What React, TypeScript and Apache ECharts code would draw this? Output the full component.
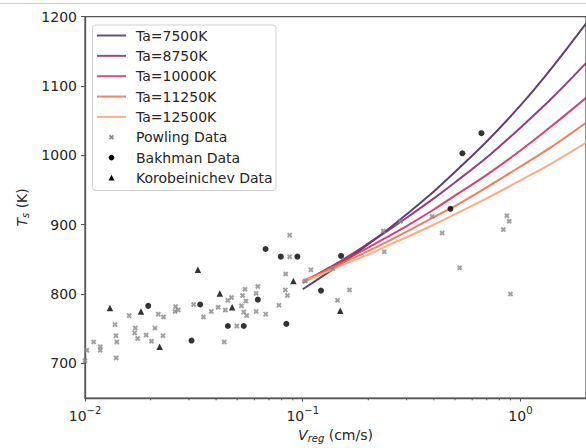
import React, { useEffect, useRef } from 'react';
import * as echarts from 'echarts';

// ---- data ----
const curveNames = ['Ta=7500K', 'Ta=8750K', 'Ta=10000K', 'Ta=11250K', 'Ta=12500K'];
const curveColors = ['#4e2d5c', '#8a2a6e', '#d3305f', '#f2704d', '#f9a47c'];
const curveV = [0.1, 0.125, 0.15, 0.2, 0.25, 0.3, 0.4, 0.5, 0.7, 1.0, 1.4, 2.0];
const curveT7500 = [807, 827, 844, 872, 895, 915, 948, 976, 1020, 1072, 1127, 1190];
const curveT8750 = [816, 834, 848, 873, 893, 910, 938, 961, 997, 1040, 1083, 1133];
const curveT10000 = [818, 833, 846, 867, 884, 898, 922, 942, 972, 1007, 1043, 1083];
const curveT11250 = [819, 832, 844, 862, 877, 890, 911, 927, 954, 984, 1013, 1047];
const curveT12500 = [818, 830, 841, 857, 871, 882, 900, 915, 938, 964, 989, 1018];
const curveTs = [curveT7500, curveT8750, curveT10000, curveT11250, curveT12500];

const powlingV = [0.0100, 0.0102, 0.01096, 0.01175, 0.01175, 0.01373, 0.01387, 0.0140, 0.0139, 0.01596,
  0.01702, 0.0169, 0.01745, 0.0191, 0.0202, 0.02096, 0.0217, 0.02296, 0.0228, 0.02606,
  0.0259, 0.0268, 0.03155, 0.035, 0.038, 0.0409, 0.0436, 0.0441, 0.0453, 0.0471,
  0.0498, 0.0523, 0.0529, 0.0543, 0.0548, 0.0536, 0.0553, 0.0611, 0.0622, 0.0611,
  0.0676, 0.0778, 0.0835, 0.0832, 0.085, 0.0871, 0.0871, 0.1028, 0.109, 0.1375,
  0.1445, 0.164, 0.2344, 0.2369, 0.281, 0.393, 0.437, 0.526, 0.834, 0.866,
  0.888, 0.900];
const powlingT = [704, 719, 731, 724, 719, 756, 740, 731, 708, 769,
  751, 744, 736, 741, 732, 751, 771, 767, 740, 782,
  775, 777, 785, 767, 775, 781, 731, 777, 791, 795,
  754, 783, 798, 807, 790, 774, 769, 801, 811, 775,
  771, 784, 829, 806, 798, 885, 854, 819, 835, 837,
  791, 806, 891, 861, 905, 912, 888, 838, 893, 913,
  905, 800];

const bakhmanV = [0.01952, 0.03085, 0.0338, 0.0453, 0.0536, 0.0622, 0.0675, 0.0793, 0.0841, 0.0945, 0.1213, 0.150, 0.477, 0.541, 0.662];
const bakhmanT = [783, 733, 785, 754, 754, 792, 865, 854, 757, 854, 805, 855, 923, 1003, 1032];

const korobV = [0.01302, 0.01807, 0.02201, 0.033, 0.0416, 0.0474, 0.0906, 0.1487];
const korobT = [780, 775, 724, 835, 801, 781, 819, 776];

const scatterNames = ['Powling Data', 'Bakhman Data', 'Korobeinichev Data'];

const xMajorTicks = [0.01, 0.1, 1];
const xMajorExponents = ['−2', '−1', '0'];
const xMinorTicks = [0.02, 0.03, 0.04, 0.05, 0.06, 0.07, 0.08, 0.09, 0.2, 0.3, 0.4, 0.5, 0.6, 0.7, 0.8, 0.9];
const yTicks = [700, 800, 900, 1000, 1100, 1200];
const xMin = 0.01, xMax = 2, yMin = 650, yMax = 1200;

// ---- styling ----
const FONT = 'DejaVu Sans';
const SPINE = '#555';
const TEXT = '#262626';
const GRAY = '#8a8a8a';
const X_PATH = 'path://M0,2.6L2.6,0L5,2.4L7.4,0L10,2.6L7.6,5L10,7.4L7.4,10L5,7.6L2.6,10L0,7.4L2.4,5Z';

const zip = (a: number[], b: number[]) => a.map((v, i) => [v, b[i]]);

function buildLegend() {
  const els: any[] = [];
  const bx = 92.5, by = 25, bw = 183.5, bh = 165.5;
  const rowY0 = 35.5, rowGap = 20.35;
  const hx1 = 97, hx2 = 126, hxc = 111.5, tx = 136;
  els.push({
    type: 'rect', z: 100,
    shape: { x: bx, y: by, width: bw, height: bh, r: 3 },
    style: { fill: 'rgba(255,255,255,0.8)', stroke: '#cfcfcf', lineWidth: 1 },
  });
  const addText = (t: string, y: number) => els.push({
    type: 'text', z: 101, x: tx, y,
    style: { text: t, fontFamily: FONT, fontSize: 14, fill: TEXT, verticalAlign: 'middle', align: 'left' },
  });
  curveNames.forEach((n, i) => {
    const y = rowY0 + i * rowGap;
    els.push({ type: 'line', z: 101, shape: { x1: hx1, y1: y, x2: hx2, y2: y }, style: { stroke: curveColors[i], lineWidth: 2, opacity: 0.85 } });
    addText(n, y);
  });
  scatterNames.forEach((n, k) => {
    const y = rowY0 + (curveNames.length + k) * rowGap;
    if (k === 0) {
      const s = 2.6, w = 1.3;
      els.push({
        type: 'polygon', z: 101,
        shape: { points: [
          [hxc - s, y - s + w], [hxc - s + w, y - s], [hxc, y - w], [hxc + s - w, y - s], [hxc + s, y - s + w], [hxc + w, y],
          [hxc + s, y + s - w], [hxc + s - w, y + s], [hxc, y + w], [hxc - s + w, y + s], [hxc - s, y + s - w], [hxc - w, y],
        ] },
        style: { fill: GRAY },
      });
    } else if (k === 1) {
      els.push({ type: 'circle', z: 101, shape: { cx: hxc, cy: y, r: 2.8 }, style: { fill: '#000' } });
    } else {
      els.push({ type: 'polygon', z: 101, shape: { points: [[hxc, y - 3.2], [hxc - 3, y + 2.6], [hxc + 3, y + 2.6]] }, style: { fill: '#000' } });
    }
    addText(n, y);
  });
  // notebook cell border at the very top
  els.push({ type: 'line', z: 100, shape: { x1: 0, y1: 3.5, x2: 586, y2: 3.5 }, style: { stroke: '#cfcfcf', lineWidth: 1 } });
  return els;
}

export default function App() {
  const ref = useRef<HTMLDivElement>(null);
  useEffect(() => {
    if (!ref.current) return;
    const chart = echarts.init(ref.current, null, { renderer: 'svg' });

    const lineSeries = curveNames.map((name, i) => ({
      name, type: 'line', data: zip(curveV, curveTs[i]),
      showSymbol: false, symbol: 'none', smooth: 0.3,
      lineStyle: { color: curveColors[i], width: 2, opacity: 0.9 }, z: 2, silent: true,
    }));

    const option: any = {
      animation: false,
      backgroundColor: '#fff',
      textStyle: { fontFamily: FONT },
      grid: { left: 85, right: -3, top: 16.7, bottom: 46.3, show: true, borderColor: SPINE, borderWidth: 1.3, backgroundColor: 'transparent' },
      xAxis: {
        type: 'log', logBase: 10, min: xMin, max: xMax,
        name: '{i|V}{sub|reg} {n|(cm/s)}', nameLocation: 'middle', nameGap: 24,
        nameTextStyle: {
          color: TEXT, fontFamily: FONT, fontSize: 14,
          rich: {
            i: { fontStyle: 'italic', fontSize: 14, fontFamily: FONT, color: TEXT },
            sub: { fontStyle: 'italic', fontSize: 10, fontFamily: FONT, color: TEXT, padding: [7, 0, 0, 0] },
            n: { fontSize: 14, fontFamily: FONT, color: TEXT },
          },
        },
        axisLine: { show: true, lineStyle: { color: SPINE, width: 1.3 } },
        axisTick: { show: true, length: 3.5, lineStyle: { color: SPINE, width: 1 } },
        axisLabel: {
          color: TEXT, fontSize: 14, fontFamily: FONT, margin: 7, showMaxLabel: false,
          formatter: (v: number) => {
            const idx = xMajorTicks.findIndex((t) => Math.abs(Math.log10(t) - Math.log10(v)) < 1e-6);
            if (idx < 0) return '';
            return '{b|10}{sup|' + xMajorExponents[idx] + '}';
          },
          rich: {
            b: { fontSize: 14, fontFamily: FONT, color: TEXT },
            sup: { fontSize: 10, fontFamily: FONT, color: TEXT, padding: [0, 0, 11, 0] },
          },
        },
        splitLine: { show: false },
      },
      yAxis: {
        type: 'value', min: yMin, max: yMax,
        name: '{i|T}{sub|s} {n|(K)}', nameLocation: 'middle', nameGap: 55,
        nameTextStyle: {
          color: TEXT, fontFamily: FONT, fontSize: 14,
          rich: {
            i: { fontStyle: 'italic', fontSize: 14, fontFamily: FONT, color: TEXT },
            sub: { fontStyle: 'italic', fontSize: 10, fontFamily: FONT, color: TEXT, padding: [7, 0, 0, 0] },
            n: { fontSize: 14, fontFamily: FONT, color: TEXT },
          },
        },
        axisLine: { show: true, lineStyle: { color: SPINE, width: 1.3 } },
        axisTick: { show: true, length: 4, customValues: yTicks, lineStyle: { color: SPINE, width: 1 } },
        axisLabel: {
          color: TEXT, fontSize: 14, fontFamily: FONT, margin: 8, customValues: yTicks,
          formatter: (v: number) => String(v),
        },
        splitLine: { show: false },
      },
      series: [
        ...lineSeries,
        {
          type: 'custom', name: 'minorTicks', silent: true, clip: false, z: 5,
          data: xMinorTicks.map((v) => [v, yMin]),
          renderItem: (_p: any, api: any) => {
            const p = api.coord([api.value(0), api.value(1)]);
            return { type: 'line', shape: { x1: p[0], y1: p[1], x2: p[0], y2: p[1] + 2.2 }, style: { stroke: SPINE, lineWidth: 1 } };
          },
        },
        {
          name: scatterNames[0], type: 'scatter', data: zip(powlingV, powlingT),
          symbol: X_PATH, symbolSize: 5.5, itemStyle: { color: GRAY }, z: 3, silent: true,
        },
        {
          name: scatterNames[1], type: 'scatter', data: zip(bakhmanV, bakhmanT),
          symbol: 'circle', symbolSize: 6, itemStyle: { color: '#000' }, z: 4, silent: true,
        },
        {
          name: scatterNames[2], type: 'scatter', data: zip(korobV, korobT),
          symbol: 'triangle', symbolSize: 6.5, itemStyle: { color: '#000' }, z: 4, silent: true,
        },
      ],
      graphic: buildLegend(),
    };
    chart.setOption(option);
    return () => chart.dispose();
  }, []);
  return <div ref={ref} style={{ position: 'fixed', left: 0, top: 0, width: 586, height: 448 }} />;
}
